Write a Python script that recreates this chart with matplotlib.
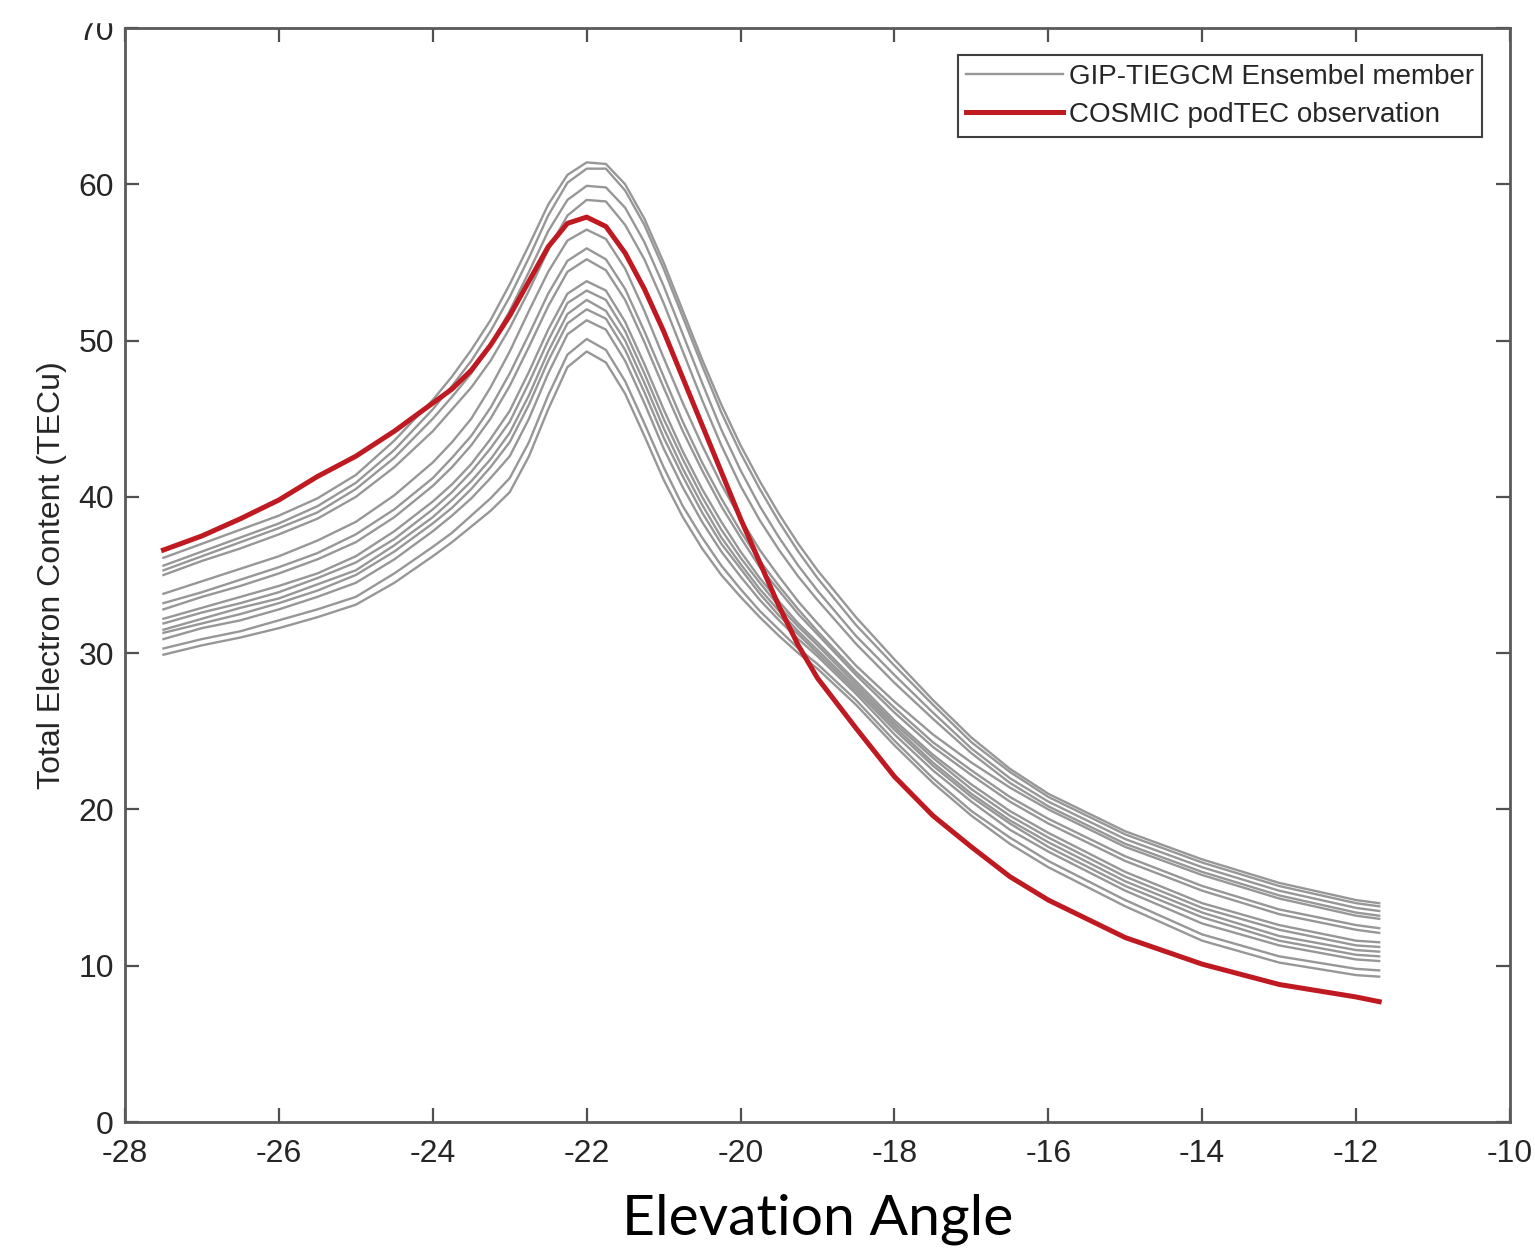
import matplotlib
matplotlib.use("Agg")
import matplotlib.pyplot as plt
from matplotlib.patches import Rectangle

plt.rcParams['font.family'] = ['Liberation Sans', 'DejaVu Sans']
plt.rcParams['axes.unicode_minus'] = False

# elevation angle grid (deg)
elev = [-27.5, -27, -26.5, -26, -25.5, -25, -24.5, -24, -23.75, -23.5, -23.25,
        -23, -22.75, -22.5, -22.25, -22, -21.75, -21.5, -21.25, -21, -20.75,
        -20.5, -20.25, -20, -19.75, -19.5, -19.25, -19, -18.5, -18, -17.5,
        -17, -16.5, -16, -15, -14, -13, -12, -11.7]

# COSMIC podTEC observation (TECu)
cosmic = [36.6, 37.5, 38.6, 39.8, 41.3, 42.6, 44.2, 46.0, 46.9, 48.1, 49.7,
          51.6, 53.8, 56.0, 57.5, 57.9, 57.3, 55.6, 53.3, 50.6, 47.6, 44.6,
          41.6, 38.6, 35.8, 33.0, 30.5, 28.4, 25.2, 22.1, 19.6, 17.6, 15.7,
          14.2, 11.8, 10.1, 8.8, 8.0, 7.7]

# GIP-TIEGCM ensemble members (TECu)
member_01 = [36.1, 37.0, 37.9, 38.8, 39.9, 41.4, 43.6, 46.2, 47.7, 49.4, 51.3,
             53.6, 56.1, 58.7, 60.6, 61.4, 61.3, 60.0, 57.8, 55.0, 51.9, 48.8,
             45.9, 43.3, 41.0, 38.9, 37.0, 35.3, 32.3, 29.6, 27.0, 24.6, 22.6,
             21.0, 18.6, 16.8, 15.3, 14.2, 14.0]
member_02 = [35.6, 36.5, 37.4, 38.3, 39.4, 40.9, 43.0, 45.6, 47.1, 48.7, 50.6,
             52.8, 55.3, 58.0, 60.1, 61.0, 61.0, 59.6, 57.4, 54.6, 51.5, 48.4,
             45.4, 42.8, 40.5, 38.4, 36.5, 34.8, 31.8, 29.2, 26.7, 24.3, 22.4,
             20.8, 18.4, 16.6, 15.1, 14.0, 13.8]
member_03 = [35.3, 36.2, 37.1, 38.0, 39.0, 40.5, 42.5, 45.0, 46.4, 47.9, 49.7,
             51.9, 54.4, 57.0, 59.0, 59.9, 59.8, 58.5, 56.3, 53.5, 50.4, 47.3,
             44.3, 41.7, 39.4, 37.4, 35.6, 34.0, 31.1, 28.6, 26.2, 23.9, 22.0,
             20.5, 18.1, 16.3, 14.8, 13.7, 13.5]
member_04 = [35.0, 35.9, 36.7, 37.6, 38.6, 40.0, 41.9, 44.2, 45.6, 47.0, 48.7,
             50.8, 53.2, 55.8, 58.0, 59.0, 58.9, 57.4, 55.2, 52.4, 49.3, 46.2,
             43.3, 40.7, 38.5, 36.6, 34.9, 33.4, 30.6, 28.1, 25.8, 23.6, 21.7,
             20.2, 17.8, 16.0, 14.5, 13.4, 13.2]
member_05 = [33.8, 34.6, 35.4, 36.2, 37.2, 38.4, 40.1, 42.2, 43.5, 45.0, 47.0,
             49.3, 51.9, 54.4, 56.4, 57.1, 56.5, 54.6, 51.9, 48.9, 46.0, 43.3,
             40.8, 38.6, 36.6, 34.9, 33.3, 31.9, 29.2, 26.9, 24.8, 23.0, 21.4,
             20.0, 17.6, 15.8, 14.3, 13.2, 13.0]
member_06 = [33.2, 33.9, 34.7, 35.5, 36.4, 37.6, 39.2, 41.2, 42.5, 43.9, 45.7,
             47.9, 50.4, 53.0, 55.1, 55.9, 55.2, 53.3, 50.6, 47.7, 44.8, 42.2,
             39.9, 37.8, 35.9, 34.3, 32.8, 31.4, 28.8, 26.5, 24.3, 22.5, 20.8,
             19.4, 17.0, 15.1, 13.6, 12.6, 12.4]
member_07 = [32.8, 33.6, 34.3, 35.1, 36.0, 37.1, 38.7, 40.7, 41.9, 43.3, 45.0,
             47.1, 49.6, 52.2, 54.4, 55.2, 54.5, 52.6, 49.9, 47.0, 44.2, 41.7,
             39.4, 37.4, 35.5, 34.0, 32.5, 31.2, 28.6, 26.2, 24.0, 22.2, 20.5,
             19.1, 16.7, 14.8, 13.3, 12.3, 12.1]
member_08 = [32.2, 32.9, 33.6, 34.3, 35.1, 36.2, 37.8, 39.7, 40.8, 42.1, 43.7,
             45.5, 48.0, 50.7, 53.0, 53.8, 53.2, 51.2, 48.5, 45.6, 42.9, 40.5,
             38.4, 36.5, 34.8, 33.3, 31.9, 30.7, 28.2, 25.7, 23.5, 21.6, 19.9,
             18.5, 16.0, 14.0, 12.6, 11.6, 11.5]
member_09 = [31.9, 32.6, 33.2, 33.9, 34.8, 35.8, 37.3, 39.2, 40.3, 41.6, 43.1,
             44.8, 47.3, 50.0, 52.4, 53.2, 52.6, 50.6, 47.9, 45.0, 42.4, 40.0,
             37.9, 36.1, 34.5, 33.0, 31.7, 30.5, 28.0, 25.5, 23.3, 21.3, 19.6,
             18.2, 15.7, 13.7, 12.3, 11.3, 11.2]
member_10 = [31.5, 32.2, 32.9, 33.5, 34.4, 35.3, 36.9, 38.7, 39.8, 41.0, 42.4,
             44.1, 46.5, 49.3, 51.7, 52.6, 51.9, 50.0, 47.3, 44.4, 41.8, 39.5,
             37.4, 35.7, 34.1, 32.7, 31.4, 30.2, 27.8, 25.3, 23.0, 21.0, 19.3,
             17.9, 15.4, 13.4, 11.9, 11.0, 10.9]
member_11 = [31.3, 31.9, 32.5, 33.2, 34.0, 35.0, 36.5, 38.3, 39.3, 40.5, 41.9,
             43.5, 45.9, 48.7, 51.1, 52.0, 51.4, 49.4, 46.7, 43.8, 41.3, 39.0,
             37.0, 35.4, 33.8, 32.4, 31.2, 30.0, 27.6, 25.1, 22.8, 20.8, 19.1,
             17.6, 15.1, 13.1, 11.6, 10.7, 10.6]
member_12 = [30.9, 31.6, 32.1, 32.8, 33.6, 34.5, 36.0, 37.8, 38.8, 39.9, 41.2,
             42.6, 45.0, 47.9, 50.4, 51.3, 50.7, 48.7, 46.0, 43.1, 40.6, 38.4,
             36.5, 34.9, 33.4, 32.1, 30.9, 29.8, 27.4, 24.8, 22.5, 20.5, 18.7,
             17.3, 14.8, 12.7, 11.3, 10.4, 10.3]
member_13 = [30.3, 30.9, 31.4, 32.1, 32.8, 33.6, 35.1, 36.8, 37.7, 38.8, 39.9,
             41.2, 43.5, 46.5, 49.1, 50.1, 49.4, 47.4, 44.7, 41.9, 39.4, 37.4,
             35.6, 34.1, 32.7, 31.5, 30.3, 29.3, 27.0, 24.4, 22.0, 19.9, 18.2,
             16.7, 14.2, 12.0, 10.6, 9.8, 9.7]
member_14 = [29.9, 30.5, 31.0, 31.6, 32.3, 33.1, 34.5, 36.2, 37.1, 38.1, 39.1,
             40.3, 42.6, 45.6, 48.3, 49.3, 48.6, 46.6, 43.9, 41.1, 38.7, 36.7,
             35.0, 33.6, 32.3, 31.1, 30.0, 29.0, 26.7, 24.1, 21.7, 19.6, 17.8,
             16.3, 13.8, 11.6, 10.2, 9.4, 9.3]

members = [member_01, member_02, member_03, member_04, member_05, member_06,
           member_07, member_08, member_09, member_10, member_11, member_12,
           member_13, member_14]

xticks = list(range(-28, -9, 2))
yticks = list(range(0, 71, 10))

fig = plt.figure(figsize=(15.35, 12.53), dpi=100)
ax = fig.add_axes([125 / 1535, 131 / 1253, 1385 / 1535, 1094 / 1253])

for i, m in enumerate(members):
    ax.plot(elev, m, color='#979797', lw=1.7,
            label='GIP-TIEGCM Ensembel member' if i == 0 else None)
ax.plot(elev, cosmic, color='#BF1A22', lw=3.6,
        label='COSMIC podTEC observation')

ax.set_xlim(-28, -10)
ax.set_ylim(0, 70)
ax.set_xticks(xticks)
ax.set_yticks(yticks)
ax.tick_params(direction='in', length=10, width=1.6, colors='#505050',
               labelcolor='#262626', labelsize=23, top=True, right=True)
ax.tick_params(axis='x', pad=12)
ax.tick_params(axis='y', pad=8)
for s in ax.spines.values():
    s.set_color('#5a5a5a')
    s.set_linewidth(2.0)

ax.set_ylabel('Total Electron Content (TECu)', fontsize=23, color='#262626',
              labelpad=8)

leg = ax.legend(loc='upper right', bbox_to_anchor=(0.98, 0.975), fontsize=20,
                fancybox=False, framealpha=1, edgecolor='#404040',
                handlelength=3.5, handletextpad=0.2, borderpad=0.3,
                labelspacing=0.45, borderaxespad=0)
leg.get_frame().set_linewidth(1.5)
for t in leg.get_texts():
    t.set_color('#262626')

fig.text(0.533, 0.027, 'Elevation Angle', fontsize=41, family=['Lato', 'DejaVu Sans'],
         ha='center', va='center', color='black')

# the source image is cropped at the top edge
fig.add_artist(Rectangle((0, 1 - 22 / 1253), 1, 22 / 1253,
                         transform=fig.transFigure, color='white', zorder=10))

fig.savefig('out.png', dpi=100)
